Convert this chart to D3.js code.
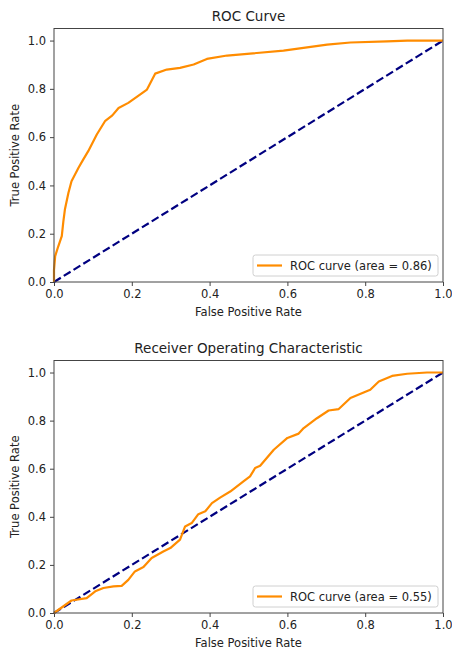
<!DOCTYPE html>
<html>
<head>
<meta charset="utf-8">
<script src="https://cdn.jsdelivr.net/npm/d3@7"></script>
<style>
  body { margin: 0; background: #fff; }
  svg text { font-family: "DejaVu Sans", sans-serif; fill: #222; }
</style>
</head>
<body>
<div id="chart"></div>
<script>
// ROC points
const topFpr = [0, 0, 0.003, 0.011, 0.020, 0.024, 0.028, 0.037, 0.045, 0.063, 0.075, 0.088, 0.110, 0.131, 0.150, 0.166, 0.191, 0.221, 0.239, 0.260, 0.290, 0.324, 0.359, 0.393, 0.445, 0.504, 0.590, 0.702, 0.762, 0.856, 0.908, 1.0];
const topTpr = [0, 0.05, 0.107, 0.148, 0.190, 0.250, 0.300, 0.369, 0.417, 0.473, 0.507, 0.542, 0.611, 0.666, 0.690, 0.721, 0.742, 0.776, 0.797, 0.863, 0.880, 0.887, 0.901, 0.924, 0.938, 0.946, 0.958, 0.983, 0.992, 0.997, 1.0, 1.0];

const botFpr = [0, 0.045, 0.084, 0.106, 0.127, 0.153, 0.174, 0.191, 0.208, 0.230, 0.251, 0.281, 0.299, 0.324, 0.337, 0.354, 0.371, 0.389, 0.406, 0.427, 0.453, 0.487, 0.504, 0.517, 0.530, 0.565, 0.600, 0.629, 0.642, 0.676, 0.706, 0.732, 0.762, 0.796, 0.813, 0.835, 0.869, 0.908, 0.959, 1.0];
const botTpr = [0, 0.052, 0.062, 0.090, 0.104, 0.111, 0.113, 0.138, 0.173, 0.191, 0.229, 0.256, 0.270, 0.305, 0.360, 0.374, 0.411, 0.423, 0.457, 0.480, 0.505, 0.547, 0.568, 0.603, 0.612, 0.679, 0.728, 0.746, 0.769, 0.810, 0.842, 0.848, 0.894, 0.917, 0.928, 0.963, 0.986, 0.995, 1.0, 1.0];

const ticks = [0.0, 0.2, 0.4, 0.6, 0.8, 1.0];

const panels = [
    { title: "ROC Curve", fpr: topFpr, tpr: topTpr, label: "ROC curve (area = 0.86)", top: 28.5, bottom: 282 },
    { title: "Receiver Operating Characteristic", fpr: botFpr, tpr: botTpr, label: "ROC curve (area = 0.55)", top: 360.5, bottom: 613 }
];

const width = 452, height = 650;
const left = 54, right = 443;

const svg = d3.select("#chart").append("svg")
    .attr("width", width)
    .attr("height", height);

panels.forEach(p => {
    const x = d3.scaleLinear().domain([0, 1]).range([left, right]);
    const y = d3.scaleLinear().domain([0, 1.05]).range([p.bottom, p.top]);
    const g = svg.append("g");

    // axes
    const xAxis = g.append("g")
        .attr("transform", `translate(0,${p.bottom})`)
        .call(d3.axisBottom(x).tickValues(ticks).tickFormat(d3.format(".1f")).tickSize(4).tickPadding(4));
    const yAxis = g.append("g")
        .attr("transform", `translate(${left},0)`)
        .call(d3.axisLeft(y).tickValues(ticks).tickFormat(d3.format(".1f")).tickSize(4).tickPadding(4));
    [xAxis, yAxis].forEach(a => {
        a.select(".domain").remove();
        a.selectAll(".tick line").attr("stroke", "#444");
        a.selectAll(".tick text").style("font-size", "11.5px").attr("fill", "#222");
    });

    // diagonal
    g.append("line")
        .attr("x1", x(0)).attr("y1", y(0))
        .attr("x2", x(1)).attr("y2", y(1))
        .attr("stroke", "#000080")
        .attr("stroke-width", 2.2)
        .attr("stroke-dasharray", "8,3.5");

    // roc curve
    const pts = p.fpr.map((f, i) => [f, p.tpr[i]]);
    g.append("path")
        .datum(pts)
        .attr("fill", "none")
        .attr("stroke", "#ff8c00")
        .attr("stroke-width", 2.2)
        .attr("stroke-linejoin", "round")
        .attr("d", d3.line().x(d => x(d[0])).y(d => y(d[1])));

    // frame
    g.append("rect")
        .attr("x", left).attr("y", p.top)
        .attr("width", right - left).attr("height", p.bottom - p.top)
        .attr("fill", "none")
        .attr("stroke", "#444")
        .attr("stroke-width", 1);

    // title and labels
    g.append("text")
        .attr("x", (left + right) / 2)
        .attr("y", p.top - 8)
        .attr("text-anchor", "middle")
        .style("font-size", "13.5px")
        .text(p.title);

    g.append("text")
        .attr("x", (left + right) / 2)
        .attr("y", p.bottom + 34)
        .attr("text-anchor", "middle")
        .style("font-size", "11.5px")
        .text("False Positive Rate");

    g.append("text")
        .attr("transform", `translate(19,${(p.top + p.bottom) / 2}) rotate(-90)`)
        .attr("text-anchor", "middle")
        .style("font-size", "11.5px")
        .text("True Positive Rate");

    // legend
    const lg = g.append("g").attr("transform", `translate(${253},${p.bottom - 27})`);
    lg.append("rect")
        .attr("width", 185).attr("height", 21)
        .attr("rx", 2.5)
        .attr("fill", "#fff")
        .attr("fill-opacity", 0.8)
        .attr("stroke", "#d0d0d0");
    lg.append("line")
        .attr("x1", 4).attr("x2", 29)
        .attr("y1", 10.5).attr("y2", 10.5)
        .attr("stroke", "#ff8c00")
        .attr("stroke-width", 2.2);
    lg.append("text")
        .attr("x", 37).attr("y", 14.5)
        .style("font-size", "11.5px")
        .text(p.label);
});
</script>
</body>
</html>
